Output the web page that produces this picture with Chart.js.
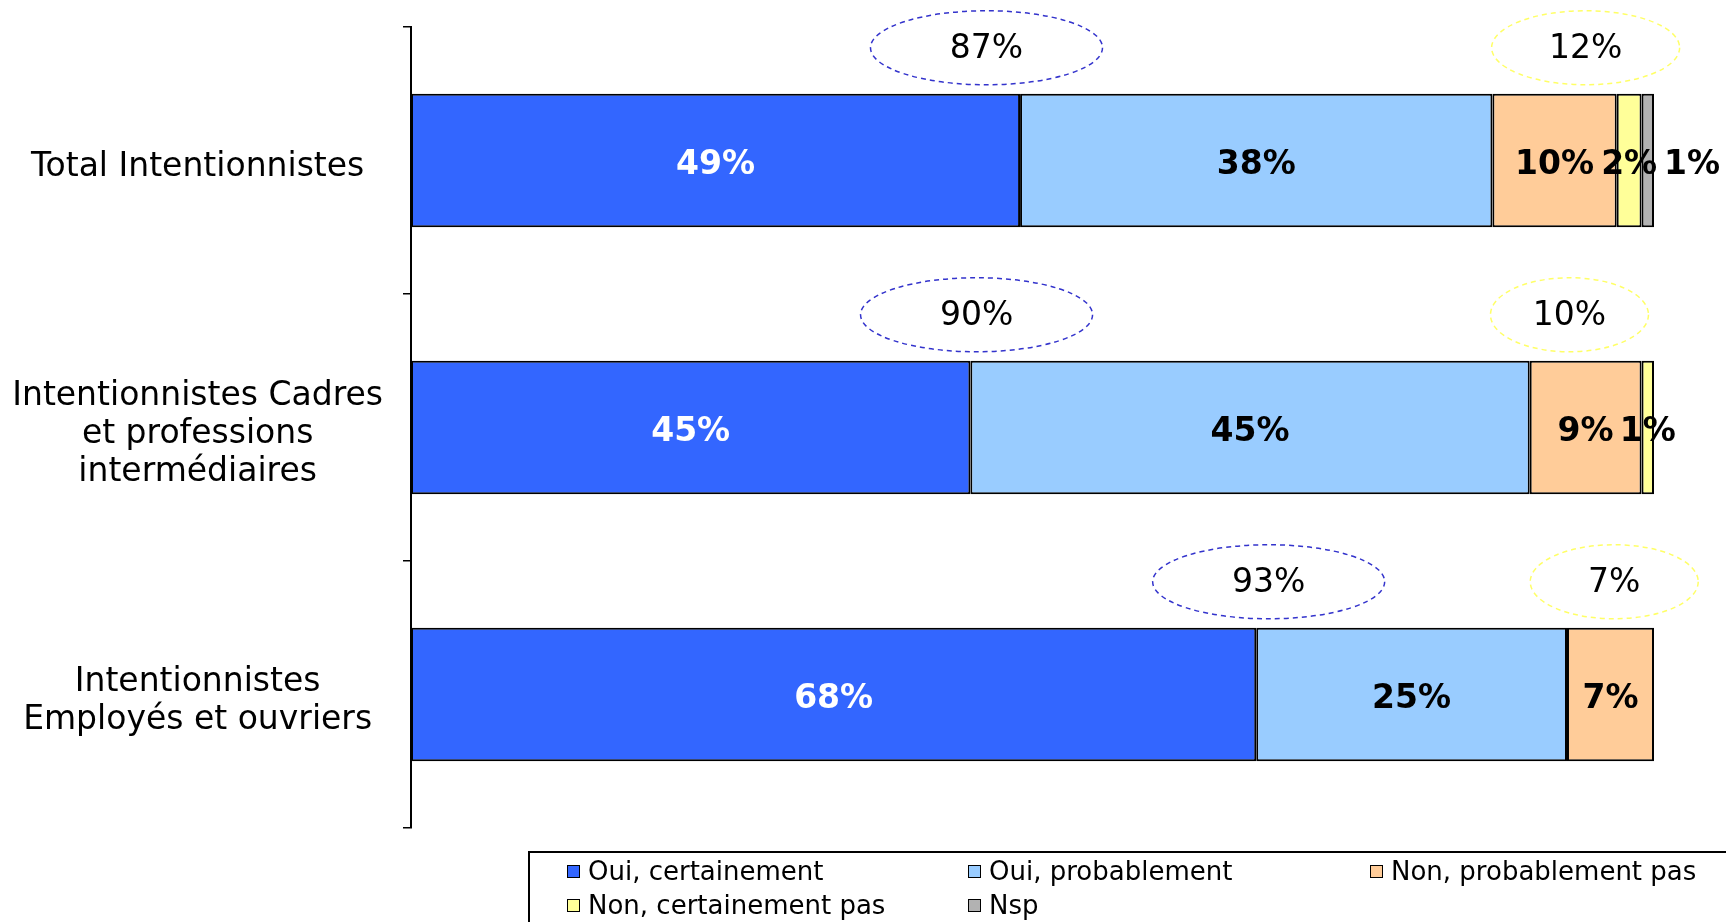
<!DOCTYPE html>
<html lang="fr">
<head>
<meta charset="UTF-8" />
<title>intentionnistes</title>
<script src="https://cdn.jsdelivr.net/npm/chart.js"></script>
<style>
  html, body {
    margin: 0; padding: 0;
    background: #fff;
    font-family: "DejaVu Sans", sans-serif;
  }
  #wrap {
    position: relative;
    width: 1726px; height: 922px;
    overflow: hidden;
  }
  #legend {
    position: absolute;
    left: 528px; top: 851px;
    width: 1300px; height: 200px;
    border: 2px solid #000;
    box-sizing: border-box;
    padding: 3px 0 0 37px;
    display: grid;
    grid-template-columns: 401px 402px 400px;
    grid-auto-rows: 30px;
    row-gap: 4px;
    font-size: 26px;
    color: #000;
  }
  .item { display: flex; align-items: center; line-height: 30px; white-space: nowrap; }
  .swatch {
    width: 13px; height: 13px;
    border: 1.5px solid #000;
    margin-right: 8px;
    box-sizing: border-box;
  }
</style>
</head>
<body>
<div id="wrap">
  <canvas id="chart"></canvas>
  <div id="legend"></div>
</div>

<script>
  const categories = [
    'Total Intentionnistes',
    ['Intentionnistes Cadres', 'et professions', 'intermédiaires'],
    ['Intentionnistes', 'Employés et ouvriers']
  ];
  const seriesNames = ['Oui, certainement', 'Oui, probablement', 'Non, probablement pas', 'Non, certainement pas', 'Nsp'];
  const ouiCertainement = [49, 45, 68];
  const ouiProbablement = [38, 45, 25];
  const nonProbablementPas = [10, 9, 7];
  const nonCertainementPas = [2, 1, null];
  const nsp = [1, null, null];
  // totaux entourés au-dessus des barres
  const totalOui = [87, 90, 93];
  const totalNon = [12, 10, 7];

  const colors = ['#3366FF', '#99CCFF', '#FFCC99', '#FFFF99', '#B2B2B2'];
  const series = [ouiCertainement, ouiProbablement, nonProbablementPas, nonCertainementPas, nsp];

  // étiquettes des segments
  const segLabels = {
    id: 'segLabels',
    afterDatasetsDraw(chart) {
      const ctx = chart.ctx;
      ctx.save();
      ctx.font = 'bold 33px "DejaVu Sans"';
      ctx.textBaseline = 'middle';
      chart.data.datasets.forEach((ds, i) => {
        chart.getDatasetMeta(i).data.forEach((bar, j) => {
          const v = ds.data[j];
          if (v == null) return;
          const p = bar.getProps(['x', 'y', 'base']);
          ctx.fillStyle = i === 0 ? '#fff' : '#000';
          if (i === 4) {
            ctx.textAlign = 'left';
            ctx.fillText(v + '%', p.x + 10, p.y + 5);
          } else {
            ctx.textAlign = 'center';
            ctx.fillText(v + '%', (p.x + p.base) / 2, p.y + 5);
          }
        });
      });
      ctx.restore();
    }
  };

  // ellipses pointillées avec les totaux
  const bubbles = {
    id: 'bubbles',
    afterDatasetsDraw(chart, args, opts) {
      const ctx = chart.ctx;
      const xs = chart.scales.x;
      const bars = chart.getDatasetMeta(0).data;
      ctx.save();
      opts.groups.forEach(g => {
        g.values.forEach((v, j) => {
          const p = bars[j].getProps(['y', 'height']);
          const cx = xs.getPixelForValue(g.at[j]);
          const cy = p.y - p.height / 2 - 46;
          ctx.beginPath();
          ctx.ellipse(cx, cy, g.rx[j], 37, 0, 0, Math.PI * 2);
          ctx.setLineDash([5, 4]);
          ctx.strokeStyle = g.color;
          ctx.lineWidth = 1.5;
          ctx.stroke();
          ctx.setLineDash([]);
          ctx.fillStyle = '#000';
          ctx.font = '33px "DejaVu Sans"';
          ctx.textAlign = 'center';
          ctx.textBaseline = 'middle';
          ctx.fillText(v + '%', cx, cy + 2);
        });
      });
      ctx.restore();
    }
  };

  const chart = new Chart(document.getElementById('chart'), {
    type: 'bar',
    data: {
      labels: categories,
      datasets: series.map((d, i) => ({
        label: seriesNames[i],
        data: d,
        backgroundColor: colors[i],
        borderColor: '#000',
        borderWidth: 2,
        borderSkipped: false,
        categoryPercentage: 1,
        barPercentage: 0.5
      }))
    },
    options: {
      indexAxis: 'y',
      responsive: true,
      maintainAspectRatio: false,
      animation: false,
      layout: { padding: { top: 27, bottom: 94, right: 72, left: 0 } },
      scales: {
        x: { stacked: true, min: 0, max: 100, display: false },
        y: {
          stacked: true,
          grid: { drawOnChartArea: false, tickLength: 8, color: '#000', lineWidth: 1.5, offset: true },
          border: { color: '#000', width: 2 },
          ticks: {
            color: '#000',
            font: { family: 'DejaVu Sans', size: 33, lineHeight: 1.15 },
            padding: 20,
            labelOffset: 7,
            crossAlign: 'center',
            autoSkip: false
          },
          afterFit(s) {
            s.width = 411;
            s.paddingTop = 0;
            s.paddingBottom = 0;
          }
        }
      },
      plugins: {
        legend: { display: false },
        tooltip: { enabled: false },
        bubbles: {
          groups: [
            { values: totalOui, at: [46.3, 45.5, 69], rx: [116, 116, 116], color: '#3333CC' },
            { values: totalNon, at: [94.5, 93.2, 96.8], rx: [94, 79, 84], color: '#FFFF66' }
          ]
        }
      }
    },
    plugins: [segLabels, bubbles]
  });

  // légende en html
  const legend = document.getElementById('legend');
  chart.data.datasets.forEach(ds => {
    const div = document.createElement('div');
    div.className = 'item';
    div.innerHTML = `<span class="swatch" style="background:${ds.backgroundColor}"></span>${ds.label}`;
    legend.appendChild(div);
  });
</script>
</body>
</html>
